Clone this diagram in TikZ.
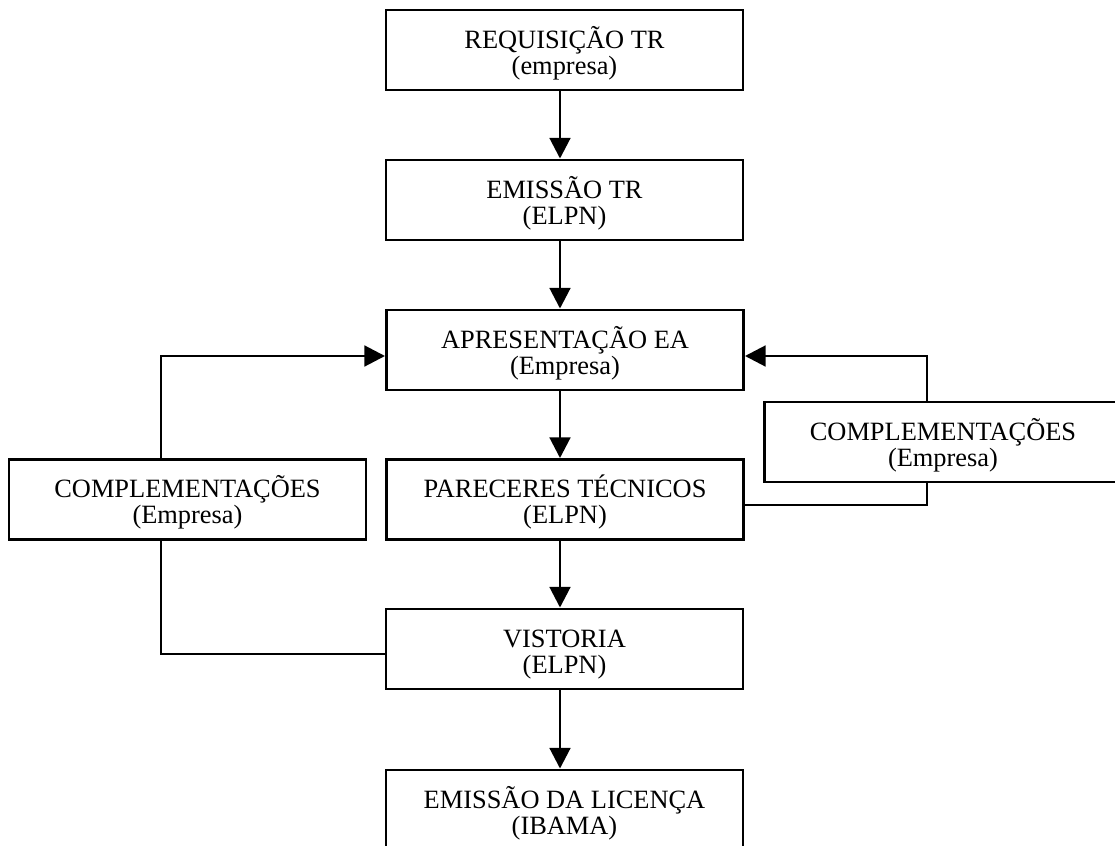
\documentclass[tikz,border=0pt]{standalone}
\usepackage{fontspec}
\setmainfont{Liberation Serif}
\usetikzlibrary{arrows.meta}
\newcommand{\twolines}[2]{\rule{0pt}{22pt}#1\\#2\rule[-5pt]{0pt}{5pt}}
\begin{document}
\begin{tikzpicture}[x=0.75pt,y=-0.75pt,
  box/.style={draw,line width=2.2pt,minimum width=267.75pt,minimum height=60pt,inner sep=0pt,
    align=center,font=\fontsize{19.8pt}{19.3pt}\selectfont},
  conn/.style={line width=2.2pt},
  arr/.style={conn,-{Triangle[length=15.5pt,width=15.5pt]}}]
\useasboundingbox (0,0) rectangle (1115,846);
\node[box] (req) at (564.5,50) {\twolines{REQUISIÇÃO TR}{(empresa)}};
\node[box] (emi) at (564.5,200) {\twolines{EMISSÃO TR}{(ELPN)}};
\node[box] (apr) at (565,350) {\twolines{APRESENTAÇÃO EA}{(Empresa)}};
\node[box] (par) at (565,499.5) {\twolines{PARECERES TÉCNICOS}{(ELPN)}};
\node[box] (vis) at (564.5,649) {\twolines{VISTORIA}{(ELPN)}};
\node[box] (lic) at (564.5,810) {\twolines{EMISSÃO DA LICENÇA}{(IBAMA)}};
\node[box] (cl) at (187.5,499.5) {\twolines{COMPLEMENTAÇÕES}{(Empresa)}};
\node[box] (cr) at (943,442) {\twolines{COMPLEMENTAÇÕES}{(Empresa)}};
\coordinate (ax) at (560,0);
\coordinate (lx) at (161,0);
\coordinate (rx) at (927,0);
\coordinate (ay) at (0,356);
\draw[arr] (req.south -| ax) -- (emi.north -| ax);
\draw[arr] (emi.south -| ax) -- (apr.north -| ax);
\draw[arr] (apr.south -| ax) -- (par.north -| ax);
\draw[arr] (par.south -| ax) -- (vis.north -| ax);
\draw[arr] (vis.south -| ax) -- (lic.north -| ax);
% left loop
\draw[conn] (vis.west |- 0,654) -| (cl.south -| lx);
\draw[arr] (cl.north -| lx) |- (apr.west |- ay);
% right loop
\draw[conn] (par.east |- 0,505) -| (cr.south -| rx);
\draw[arr] (cr.north -| rx) |- (apr.east |- ay);
\end{tikzpicture}
\end{document}
